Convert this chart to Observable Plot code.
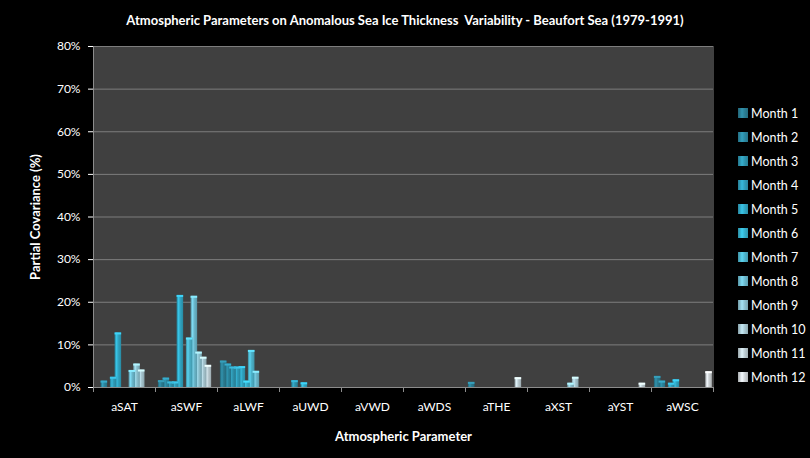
<!DOCTYPE html>
<html><head><meta charset="utf-8">
<script src="https://cdn.jsdelivr.net/npm/d3@7"></script>
<script src="https://cdn.jsdelivr.net/npm/@observablehq/plot@0.6"></script>
<style>
html,body{margin:0;padding:0;background:#000;}
#wrap{position:relative;width:810px;height:458px;background:#000;font-family:Lato,"Open Sans",sans-serif;color:#fff;overflow:hidden}
#title{height:36px;line-height:41px;text-align:center;font-weight:bold;font-size:13px;white-space:pre}
#legend{position:absolute;left:738px;top:101px}
.li{height:24px;display:flex;align-items:center;font-size:12.5px}
.sw{width:10px;height:10px;margin-right:3px}
svg g[aria-label="y-axis tick"]{stroke:#8c8c8c}
svg g[aria-label="y-axis label"], svg g[aria-label="fx-axis label"]{font-weight:bold;font-size:13px}
</style></head><body>
<div id="wrap">
  <div id="title">Atmospheric Parameters on Anomalous Sea Ice Thickness  Variability - Beaufort Sea (1979-1991)</div>
  <div id="chart"></div>
  <div id="legend"></div>
</div>
<script>
const params = ["aSAT","aSWF","aLWF","aUWD","aVWD","aWDS","aTHE","aXST","aYST","aWSC"];
const months = ["Month 1","Month 2","Month 3","Month 4","Month 5","Month 6","Month 7","Month 8","Month 9","Month 10","Month 11","Month 12"];
// partial covariance (%) per parameter, Month 1..12
const aSAT = [0, 1.5, 0, 2.4, 12.8, 0, 0, 4.0, 5.5, 4.1, 0, 0];
const aSWF = [1.6, 2.2, 1.3, 1.3, 21.6, 0, 11.6, 21.4, 8.3, 7.1, 5.2, 0];
const aLWF = [6.2, 5.5, 4.8, 4.8, 4.9, 1.5, 8.7, 3.8, 0, 0, 0, 0];
const aUWD = [0, 0, 1.6, 0, 1.1, 0, 0, 0, 0, 0, 0, 0];
const aVWD = [0, 0, 0, 0, 0, 0, 0, 0, 0, 0, 0, 0];
const aWDS = [0, 0, 0, 0, 0, 0, 0, 0, 0, 0, 0, 0];
const aTHE = [1.2, 0, 0, 0, 0, 0, 0, 0, 0, 0, 2.3, 0];
const aXST = [0, 0, 0, 0, 0, 0, 0, 0, 1.0, 2.4, 0, 0];
const aYST = [0, 0, 0, 0, 0, 0, 0, 0, 0, 0, 1.0, 0];
const aWSC = [2.6, 1.5, 0, 1.0, 1.8, 0, 0, 0, 0, 0, 0, 3.7];
const series = [aSAT, aSWF, aLWF, aUWD, aVWD, aWDS, aTHE, aXST, aYST, aWSC];
const monthColors = ["#2a7c92","#2b87a0","#2d92ac","#2f9cb8","#30a5c2","#34adc9","#4cb2ca","#6bb8cc","#8bbfcd","#a6c5cf","#bbcbd1","#cdd2d5"];

const rows = [];
params.forEach((p, pi) => series[pi].forEach((v, mi) => rows.push({param: p, month: months[mi], mi, value: v})));
rows.sort((a, b) => b.mi - a.mi);

const xDom = [-0.62, 12.66];
const axisGray = "#8c8c8c";

const chart = Plot.plot({
  width: 810, height: 422,
  marginTop: 10, marginBottom: 71, marginLeft: 91, marginRight: 95,
  style: {background: "transparent", color: "#fff", fontFamily: "Lato, sans-serif", fontSize: "12px"},
  fx: {domain: params, padding: 0, label: "Atmospheric Parameter", labelAnchor: "center", tickSize: 0, tickPadding: 15, labelOffset: 53},
  x: {domain: xDom, axis: null},
  y: {domain: [0, 80], ticks: 8, tickFormat: d => d + "%", tickSize: 5, tickPadding: 8, label: "Partial Covariance (%)", labelAnchor: "center", labelArrow: "none", labelOffset: 63},
  color: {type: "identity"},
  marks: [
    Plot.frame({fill: "#404040", stroke: "#404040"}),
    Plot.ruleY(d3.range(10, 81, 10), {stroke: "#7d7d7d"}),
    Plot.rect(rows, {filter: d => d.value > 0, fx: "param", x1: "mi", x2: d => d.mi + 1, y1: 0, y2: "value",
      fill: d => `url(#g${d.mi})`, insetRight: -1.9}),
    Plot.rect(rows, {filter: d => d.value > 0, fx: "param", x1: "mi", x2: d => d.mi + 1, y1: "value", y2: "value",
      insetBottom: -2, insetRight: -1.9, fill: d => d3.color(monthColors[d.mi]).brighter(0.7).formatHex()}),
    Plot.ruleY([0], {stroke: axisGray}),
    Plot.ruleX(params, {fx: d => d, x: () => xDom[0], y1: 0, y2: 0, insetBottom: -5, stroke: axisGray}),
    Plot.ruleX(params, {fx: d => d, x: () => xDom[1], y1: 0, y2: 0, insetBottom: -5, stroke: axisGray}),
    Plot.ruleX([params[0]], {fx: d => d, x: () => xDom[0], stroke: axisGray})
  ]
});

const svg = d3.select(chart.tagName.toLowerCase() === "svg" ? chart : chart.querySelector("svg"));
const defs = svg.insert("defs", ":first-child");
monthColors.forEach((c, i) => {
  const base = d3.color(c);
  const g = defs.append("linearGradient").attr("id", "g" + i).attr("x1", 0).attr("x2", 1).attr("y1", 0).attr("y2", 0);
  [[0, base.darker(0.7)], [0.3, base.brighter(0.5)], [0.55, base], [1, base.darker(0.5)]]
    .forEach(([o, col]) => g.append("stop").attr("offset", o).attr("stop-color", col.formatHex()));
});
document.getElementById("chart").appendChild(chart);

const legend = d3.select("#legend");
months.forEach((m, i) => {
  const base = d3.color(monthColors[i]);
  const row = legend.append("div").attr("class", "li");
  row.append("div").attr("class", "sw")
    .style("background", `linear-gradient(to right, ${base.darker(0.6).formatHex()}, ${base.brighter(0.5).formatHex()} 40%, ${base.formatHex()} 70%, ${base.darker(0.4).formatHex()})`);
  row.append("span").text(m);
});
</script>
</body></html>
